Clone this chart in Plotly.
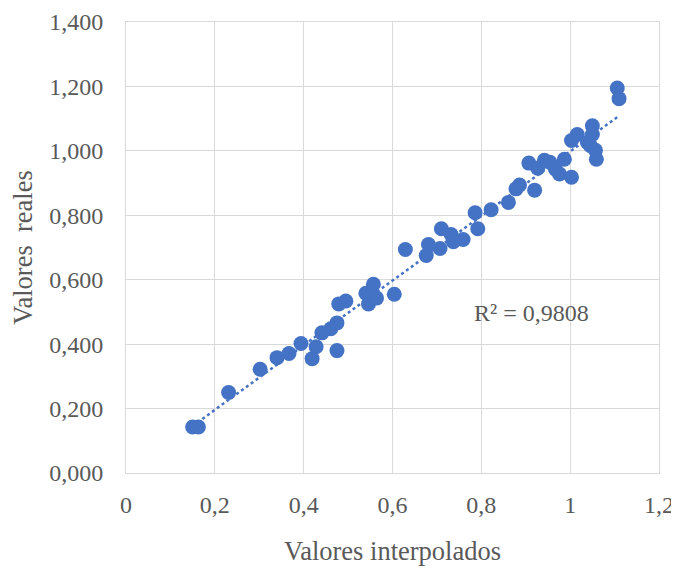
import numpy as np
import plotly.graph_objects as go

# Valores interpolados (x) and valores reales (y)
x_vals = [0.150, 0.163, 0.231, 0.302, 0.340, 0.367, 0.394, 0.428, 0.419, 0.441,
          0.461, 0.475, 0.475, 0.479, 0.495, 0.540, 0.557, 0.546, 0.564, 0.604,
          0.629, 0.676, 0.681, 0.707, 0.710, 0.732, 0.737, 0.759, 0.786, 0.792,
          0.822, 0.861, 0.878, 0.886, 0.920, 0.907, 0.927, 0.942, 0.954, 0.967,
          0.976, 0.987, 1.003, 1.003, 1.016, 1.039, 1.050, 1.050, 1.045, 1.057,
          1.059, 1.106, 1.110]
y_vals = [0.143, 0.143, 0.250, 0.322, 0.358, 0.371, 0.402, 0.392, 0.355, 0.435,
          0.448, 0.466, 0.380, 0.525, 0.534, 0.558, 0.586, 0.525, 0.543, 0.555,
          0.694, 0.675, 0.709, 0.697, 0.758, 0.740, 0.718, 0.725, 0.808, 0.758,
          0.817, 0.840, 0.882, 0.894, 0.878, 0.962, 0.946, 0.971, 0.965, 0.943,
          0.928, 0.974, 0.918, 1.032, 1.051, 1.026, 1.078, 1.051, 1.017, 1.002,
          0.974, 1.195, 1.162]
r2_label = "R² = 0,9808"

x_ticks = [0, 0.2, 0.4, 0.6, 0.8, 1.0, 1.2]
y_ticks = [0, 0.2, 0.4, 0.6, 0.8, 1.0, 1.2, 1.4]

blue = "#4472C4"
grey = "#595959"
grid = "#D9D9D9"
font = "Liberation Serif"

xa = np.array(x_vals)
ya = np.array(y_vals)
slope, intercept = np.polyfit(xa, ya, 1)
xt = np.array([xa.min(), xa.max()])
yt = slope * xt + intercept

fig = go.Figure()
fig.add_trace(go.Scatter(x=x_vals, y=y_vals, mode="markers",
                         marker=dict(size=15, color=blue, line=dict(width=0)),
                         showlegend=False, hoverinfo="skip"))
fig.add_trace(go.Scatter(x=xt, y=yt, mode="lines",
                         line=dict(color=blue, width=2.5, dash="dot"),
                         showlegend=False, hoverinfo="skip"))

fig.add_annotation(x=0.912, y=0.497, text=r2_label, showarrow=False,
                   font=dict(family=font, size=24, color=grey),
                   xanchor="center", yanchor="middle")

fig.update_layout(
    width=671, height=561,
    margin=dict(l=118, r=20, t=14, b=96),
    paper_bgcolor="white", plot_bgcolor="white",
    separators=",.",
    font=dict(family=font, size=24, color=grey),
    xaxis=dict(range=[0, 1.2], tickvals=x_ticks, automargin=False,
               ticklabeloverflow="allow",
               showgrid=True, gridcolor=grid, gridwidth=1,
               showline=True, linecolor=grid, linewidth=1, mirror=True,
               zeroline=False, ticks="", ticklabelstandoff=10,
               tickfont=dict(family=font, size=24, color=grey),
               title=dict(text="Valores interpolados", standoff=24,
                          font=dict(family=font, size=26.5, color=grey))),
    yaxis=dict(range=[0, 1.4], tickvals=y_ticks, tickformat=".3f", automargin=False,
               ticklabeloverflow="allow",
               showgrid=True, gridcolor=grid, gridwidth=1,
               showline=True, linecolor=grid, linewidth=1, mirror=True,
               zeroline=False, ticks="", ticklabelstandoff=17,
               tickfont=dict(family=font, size=24, color=grey),
               title=dict(text="Valores\u00a0 reales", standoff=10,
                          font=dict(family=font, size=26.5, color=grey))),
)

fig.write_html("out.html")
